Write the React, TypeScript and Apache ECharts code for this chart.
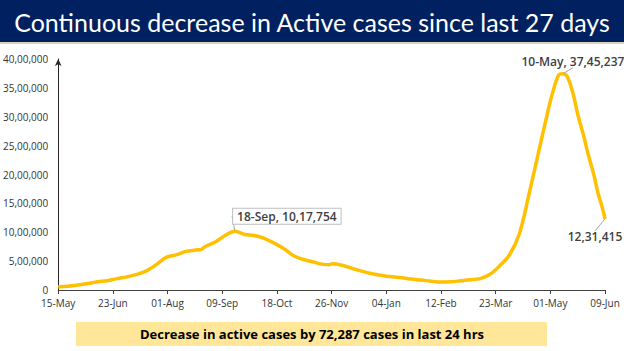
import React, { useEffect, useRef } from "react";
import * as echarts from "echarts";

const titleText = "Continuous decrease in Active cases since last 27 days";
const footnoteText = "Decrease in active cases by 72,287 cases in last 24 hrs";

const startDate = "2020-05-15";
const endDate = "2021-06-09";
const tickIntervalDays = 39;
const yMax = 4000000;
const yInterval = 500000;

const dates = [
  "2020-05-15", "2020-05-22", "2020-05-29", "2020-06-05", "2020-06-12", "2020-06-19", "2020-06-26",
  "2020-07-03", "2020-07-10", "2020-07-17", "2020-07-24", "2020-07-31", "2020-08-07", "2020-08-14",
  "2020-08-21", "2020-08-25", "2020-08-28", "2020-09-04", "2020-09-11", "2020-09-18", "2020-09-25",
  "2020-10-02", "2020-10-09", "2020-10-16", "2020-10-23", "2020-10-30", "2020-11-06", "2020-11-13",
  "2020-11-20", "2020-11-24", "2020-11-27", "2020-12-04", "2020-12-11", "2020-12-18", "2020-12-25",
  "2021-01-01", "2021-01-08", "2021-01-15", "2021-01-22", "2021-01-29", "2021-02-05", "2021-02-12",
  "2021-02-19", "2021-02-26", "2021-03-05", "2021-03-12", "2021-03-19", "2021-03-26", "2021-04-02",
  "2021-04-09", "2021-04-16", "2021-04-23", "2021-04-30", "2021-05-03", "2021-05-07", "2021-05-10",
  "2021-05-13", "2021-05-17", "2021-05-21", "2021-05-25", "2021-05-28", "2021-06-01", "2021-06-04",
  "2021-06-07", "2021-06-09",
];

const activeCases = [
  53035, 66330, 86422, 110960, 141842, 160384, 197387,
  227439, 269789, 331146, 440135, 565103, 607384, 668220,
  692028, 704348, 752424, 831124, 943480, 1017754, 960969,
  942217, 893592, 812390, 715812, 594386, 527962, 484547,
  443794, 438667, 454940, 422943, 372293, 322366, 281919,
  250183, 227546, 211033, 188688, 171686, 151460, 136549,
  143127, 159590, 176319, 197237, 271282, 421066, 614696,
  979608, 1679740, 2428616, 3170228, 3447133, 3723446, 3745237,
  3700000, 3420000, 3000000, 2650000, 2350000, 2000000, 1680000,
  1430000, 1231415,
];

const annotationDates = ["2020-09-18", "2021-05-10", "2021-06-09"];
const annotationTexts = ["18-Sep, 10,17,754", "10-May, 37,45,237", "12,31,415"];

const MONTHS = ["Jan", "Feb", "Mar", "Apr", "May", "Jun", "Jul", "Aug", "Sep", "Oct", "Nov", "Dec"];
const DAY = 86400000;

function dayIndex(d: string) {
  return Math.round((Date.parse(d) - Date.parse(startDate)) / DAY);
}

function fmtDay(v: number) {
  const dt = new Date(Date.parse(startDate) + v * DAY);
  const dd = String(dt.getUTCDate()).padStart(2, "0");
  return dd + "-" + MONTHS[dt.getUTCMonth()];
}

function inr(n: number) {
  const s = String(Math.round(n));
  if (s.length <= 3) return s;
  const last3 = s.slice(-3);
  let rest = s.slice(0, -3);
  const parts: string[] = [];
  while (rest.length > 2) {
    parts.unshift(rest.slice(-2));
    rest = rest.slice(0, -2);
  }
  if (rest) parts.unshift(rest);
  return parts.join(",") + "," + last3;
}

export default function App() {
  const ref = useRef<HTMLDivElement>(null);
  useEffect(() => {
    if (!ref.current) return;
    const chart = echarts.init(ref.current, undefined, { renderer: "svg" });

    const baseLabel = {
      show: true,
      position: "inside",
      color: "#404040",
      fontSize: 12,
      fontWeight: 600,
      fontFamily: "Open Sans",
    };
    const labelStyles: any[] = [
      {
        ...baseLabel,
        formatter: annotationTexts[0],
        backgroundColor: "#ffffff",
        borderColor: "#bfbfbf",
        borderWidth: 1,
        padding: [2, 4, 1, 4],
      },
      { ...baseLabel, formatter: annotationTexts[1] },
      { ...baseLabel, formatter: annotationTexts[2] },
    ];
    const offsets = [
      { dx: 52, dy: -15 },
      { dx: 10, dy: -12 },
      { dx: -10, dy: 18 },
    ];

    const data = dates.map((d, i) => {
      const k = annotationDates.indexOf(d);
      const item: any = { value: [dayIndex(d), activeCases[i]] };
      if (k >= 0) item.label = labelStyles[k];
      return item;
    });
    const annIdx = annotationDates.map((d) => dates.indexOf(d));

    chart.setOption({
      animation: false,
      backgroundColor: "#ffffff",
      grid: { left: 54, right: 19, top: 59, bottom: 61 },
      xAxis: {
        type: "value",
        min: 0,
        max: dayIndex(endDate),
        interval: tickIntervalDays,
        axisLine: { show: true, lineStyle: { color: "#404040", width: 1 } },
        axisTick: { show: true, length: 4, lineStyle: { color: "#404040" } },
        splitLine: { show: false },
        axisLabel: {
          formatter: (v: number) => fmtDay(v),
          color: "#333333",
          fontSize: 10,
          fontFamily: "Open Sans",
          margin: 8,
        },
      },
      yAxis: {
        type: "value",
        min: 0,
        max: yMax,
        interval: yInterval,
        axisLine: {
          show: true,
          symbol: ["none", "arrow"],
          symbolSize: [5, 7],
          lineStyle: { color: "#262626", width: 1 },
        },
        axisTick: { show: false },
        splitLine: { show: false },
        axisLabel: {
          formatter: (v: number) => inr(v),
          color: "#333333",
          fontSize: 10,
          fontFamily: "Open Sans",
          margin: 10,
        },
      },
      series: [
        {
          type: "line",
          data,
          smooth: 0.35,
          symbol: "circle",
          symbolSize: 1,
          showSymbol: true,
          itemStyle: { color: "#FFC000" },
          lineStyle: { color: "#FFC000", width: 3.5 },
          label: { show: false },
          labelLine: { show: true, lineStyle: { color: "#a6a6a6", width: 1 } },
          labelLayout: (params: any) => {
            const k = annIdx.indexOf(params.dataIndex);
            if (k < 0) return {};
            return offsets[k];
          },
          emphasis: { disabled: true },
        },
      ],
      graphic: [
        { type: "rect", shape: { x: 0, y: 0, width: 624, height: 42 }, style: { fill: "#002060" } },
        { type: "rect", shape: { x: 0, y: 42, width: 624, height: 2 }, style: { fill: "#d8d5bd" } },
        {
          type: "text",
          x: 312,
          y: 22,
          style: {
            text: titleText,
            fill: "#ffffff",
            font: "25px Lato",
            textAlign: "center",
            textVerticalAlign: "middle",
          },
        },
        { type: "rect", shape: { x: 76, y: 322, width: 471, height: 24 }, style: { fill: "#FFE699" } },
        {
          type: "text",
          x: 312,
          y: 334,
          style: {
            text: footnoteText,
            fill: "#000000",
            font: "bold 13px 'Open Sans'",
            textAlign: "center",
            textVerticalAlign: "middle",
          },
        },
      ],
    });
    return () => chart.dispose();
  }, []);
  return (
    <div
      ref={ref}
      style={{ position: "absolute", left: 0, top: 0, width: 624, height: 351, background: "#fff" }}
    />
  );
}
